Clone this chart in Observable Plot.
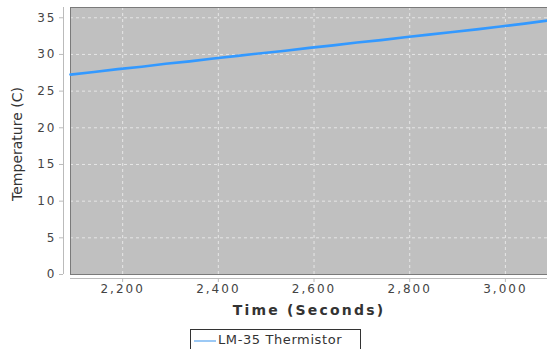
<!DOCTYPE html>
<html><head><meta charset="utf-8">
<script src="https://cdn.jsdelivr.net/npm/d3@7"></script>
<script src="https://cdn.jsdelivr.net/npm/@observablehq/plot@0.6"></script>
<style>
body{margin:0;background:#fff;}
#wrap{position:relative;width:547px;height:349px;overflow:hidden;}
#legend{position:absolute;left:190px;top:329px;width:171px;height:24px;border:1px solid #333;background:#fff;
 font:13px "DejaVu Sans",sans-serif;letter-spacing:0.6px;color:#333;box-sizing:border-box;}
#legend .sw{position:absolute;left:3px;top:10px;width:22px;height:0;border-top:2px solid #9cc9f5;}
#legend .tx{position:absolute;left:27px;top:2px;white-space:nowrap;}
g[aria-label="x-axis tick label"], g[aria-label="y-axis tick label"]{letter-spacing:2px;}
g.xlab{letter-spacing:2.2px;}
g.ylab{letter-spacing:0px;}
</style></head>
<body><div id="wrap"><div id="legend"><span class="sw"></span><span class="tx">LM-35 Thermistor</span></div></div>
<script>
const times = [2091, 2140, 2190, 2240, 2290, 2340, 2390, 2440, 2490, 2540, 2590, 2640, 2690, 2740, 2790, 2840, 2890, 2940, 2990, 3040, 3088];
const temps = [27.25, 27.60, 28.00, 28.33, 28.72, 29.06, 29.45, 29.80, 30.17, 30.50, 30.90, 31.24, 31.62, 31.95, 32.35, 32.70, 33.07, 33.42, 33.80, 34.20, 34.62];
const xTicks = [2200, 2400, 2600, 2800, 3000];
const yTicks = [0, 5, 10, 15, 20, 25, 30, 35];
const seriesName = "LM-35 Thermistor";
const xLabel = "Time (Seconds)";
const yLabel = "Temperature (C)";

const data = times.map((t, i) => ({t, v: temps[i]}));
const xDomain = [2091, 3088];
const yDomain = [0, 36.4];

const chart = Plot.plot({
  width: 547, height: 349,
  marginLeft: 70, marginRight: 0, marginTop: 7, marginBottom: 75,
  style: {fontFamily: "DejaVu Sans, sans-serif", fontSize: "12px", color: "#444", background: "transparent"},
  x: {domain: xDomain},
  y: {domain: yDomain},
  marks: [
    Plot.frame({fill: "#c0c0c0"}),
    Plot.gridX(xTicks, {stroke: "#e6e6e6", strokeOpacity: 1, strokeDasharray: "3,3"}),
    Plot.gridY(yTicks, {stroke: "#e6e6e6", strokeOpacity: 1, strokeDasharray: "3,3"}),
    Plot.frame({stroke: "#7a7a7a", strokeWidth: 1}),
    Plot.ruleY([0], {dy: 4, stroke: "#bbb"}),
    Plot.ruleX([xDomain[0]], {dx: -7, stroke: "#bbb"}),
    Plot.axisX(xTicks, {tickSize: 4, dy: 4, tickPadding: 2, tickFormat: d3.format(","), stroke: "#bbb", label: null, fill: "#444"}),
    Plot.axisY(yTicks, {tickSize: 4, dx: -7, tickPadding: 3, stroke: "#bbb", label: null, fill: "#444"}),
    Plot.line(data, {x: "t", y: "v", stroke: "#3399ff", strokeWidth: 2.6}),
    Plot.text([xLabel], {frameAnchor: "bottom", dy: 40, fontWeight: "bold", fontSize: 14, fill: "#333", className: "xlab"}),
    Plot.text([yLabel], {frameAnchor: "left", textAnchor: "middle", rotate: -90, dx: -53, dy: 3, fontSize: 14, fill: "#333", className: "ylab"})
  ]
});
document.getElementById("wrap").prepend(chart);
</script></body></html>
